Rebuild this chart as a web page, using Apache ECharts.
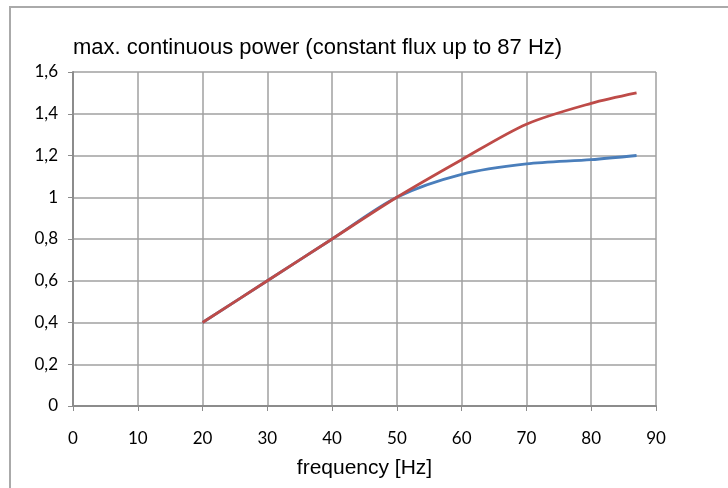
<!DOCTYPE html>
<html><head><meta charset="utf-8">
<script src="https://cdn.jsdelivr.net/npm/echarts@6/dist/echarts.min.js"></script>
<style>html,body{margin:0;padding:0;background:#fff}#c{width:728px;height:488px}</style>
</head><body><div id="c"></div>
<script>
const title = 'max. continuous power (constant flux up to 87 Hz)';
const xName = 'frequency [Hz]';
const freq = [20, 30, 40, 50, 60, 70, 80, 87];
const blueVals = [0.4, 0.6, 0.8, 1.0, 1.11, 1.16, 1.18, 1.2];
const redVals = [0.4, 0.6, 0.8, 1.0, 1.18, 1.35, 1.45, 1.5];

const chart = echarts.init(document.getElementById('c'), null, {renderer: 'canvas'});
const toPairs = v => freq.map((f, i) => [f, v[i]]);
const narrow = "'Liberation Sans', sans-serif";
chart.setOption({
  animation: false,
  backgroundColor: '#fff',
  title: {
    text: title, left: 68, top: 32,
    textStyle: {fontFamily: narrow, fontSize: 22, fontWeight: 'normal', color: '#000'}
  },
  graphic: [{
    type: 'rect', shape: {x: 10, y: 7, width: 730, height: 500},
    style: {fill: 'none', stroke: '#aaaaaa', lineWidth: 2}, silent: true
  }],
  grid: {left: 73, right: 72, top: 72, bottom: 82},
  xAxis: {
    type: 'value', min: 0, max: 90, interval: 10,
    name: xName, nameLocation: 'middle', nameGap: 52,
    nameTextStyle: {fontFamily: narrow, fontSize: 21, color: '#000'},
    axisLine: {show: true, lineStyle: {color: '#8c8c8c', width: 2}},
    axisTick: {show: true, length: 5, inside: false, lineStyle: {color: '#8c8c8c'}},
    axisLabel: {fontFamily: 'Lato', fontSize: 17, color: '#000', margin: 24},
    splitLine: {show: true, lineStyle: {color: '#a0a0a0', width: 1.5}}
  },
  yAxis: {
    type: 'value', min: 0, max: 1.6, interval: 0.2,
    axisLine: {show: true, lineStyle: {color: '#8c8c8c', width: 2}},
    axisTick: {show: true, length: 5, lineStyle: {color: '#8c8c8c'}},
    axisLabel: {fontFamily: 'Lato', fontSize: 17, color: '#000', margin: 15,
      formatter: v => String(Math.round(v * 10) / 10).replace('.', ',')},
    splitLine: {show: true, lineStyle: {color: '#a0a0a0', width: 1.5}}
  },
  series: [
    {type: 'line', data: toPairs(blueVals), smooth: 0.3, showSymbol: false,
      lineStyle: {color: '#4a7ebb', width: 2.8}},
    {type: 'line', data: toPairs(redVals), smooth: 0.3, showSymbol: false,
      lineStyle: {color: '#be4b48', width: 2.8}}
  ]
});
</script></body></html>
